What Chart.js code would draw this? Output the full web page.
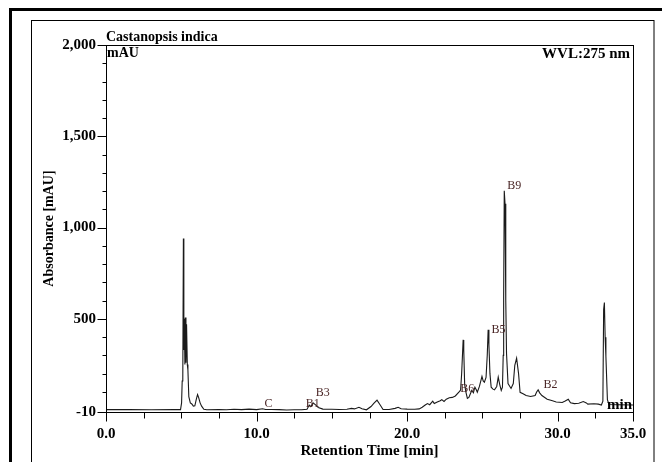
<!DOCTYPE html>
<html><head><meta charset="utf-8">
<script src="https://cdn.jsdelivr.net/npm/chart.js@4"></script>
<style>html,body{margin:0;padding:0;background:#fff;overflow:hidden;}</style>
</head><body>
<canvas id="c" width="662" height="462"></canvas>
<script>
// Chromatogram: retention time (min) and absorbance (mAU)
const times = [0,1.5,3,4.5,4.95,5.02,5.06,5.1,5.14,5.17,5.2,5.24,5.27,5.31,5.35,5.4,5.44,5.5,5.6,5.7,5.8,5.9,6.0,6.08,6.15,6.25,6.35,6.5,6.7,7.5,8.0,8.5,9.0,9.5,10.0,10.4,10.6,11.0,11.5,12.0,12.5,13.0,13.35,13.5,13.6,13.75,13.9,14.1,14.4,15.0,15.5,16.0,16.3,16.5,16.8,17.0,17.3,17.6,17.8,18.0,18.2,18.4,18.8,19.2,19.4,19.6,20.0,20.5,20.8,21.0,21.2,21.35,21.5,21.7,21.8,22.0,22.2,22.3,22.45,22.6,22.8,23.0,23.2,23.45,23.55,23.62,23.72,23.76,23.82,23.9,24.0,24.1,24.29,24.4,24.5,24.6,24.66,24.8,24.97,25.05,25.13,25.24,25.32,25.38,25.43,25.5,25.58,25.7,25.8,25.95,26.05,26.15,26.25,26.33,26.38,26.41,26.45,26.5,26.55,26.6,26.7,26.9,27.05,27.15,27.27,27.4,27.5,27.7,27.9,28.2,28.5,28.6,28.7,28.8,28.95,29.3,29.6,29.9,30.3,30.5,30.7,30.85,31.1,31.4,31.7,31.9,32.0,32.4,32.7,32.9,33.0,33.05,33.1,33.15,33.2,33.3,33.4,34.0,35.0];
const absorbance = [3,3,2,3,3,40,160,170,940,330,500,250,507,260,470,250,220,74,40,34,22,24,60,85,70,40,22,5,2,4,2,5,3,6,3,8,4,4,3,1,2,2,5,28,20,40,30,15,6,5,4,5,10,7,16,8,2,20,38,55,30,4,4,10,16,8,6,5,7,16,28,36,30,49,36,45,52,58,48,60,68,70,78,100,110,200,385,330,140,100,65,70,108,95,126,110,98,130,185,160,153,179,300,440,360,200,126,115,111,130,181,140,108,126,300,620,1202,1130,600,312,146,119,146,246,285,200,98,90,80,75,80,100,111,95,80,60,53,45,42,50,60,40,36,38,47,40,33,35,33,28,49,551,590,400,295,58,31,30,28];

const xTickValues = [0,10,20,30,35];
const xMinorTicks = [2.5,5,7.5,12.5,15,17.5,22.5,25,27.5,32.5];
const yTickValues = [-10,500,1000,1500,2000];
const yMinorTicks = [100,200,300,400,600,700,800,900,1100,1200,1300,1400,1600,1700,1800,1900];

const peakNames = ['C','B1','B3','B6','B5','B9','B2'];
const peakLabelTimes = [10.53,13.27,13.93,23.53,25.6,26.65,29.05];
const peakLabelValues = [15,15,75,102,425,1213,120];

const SERIF = "'Liberation Serif','Times New Roman',serif";

const decor = {
  id: 'decor',
  beforeDraw(chart) {
    const ctx = chart.ctx;
    ctx.save();
    ctx.fillStyle = '#fff';
    ctx.fillRect(0, 0, chart.width, chart.height);
    ctx.strokeStyle = '#000';
    ctx.lineWidth = 3;
    ctx.strokeRect(10.5, 9.5, 700, 500);
    ctx.lineWidth = 1;
    ctx.strokeRect(31.5, 20.5, 622.5, 500);
    ctx.restore();
  },
  afterDraw(chart) {
    const ctx = chart.ctx;
    const a = chart.chartArea;
    const xs = chart.scales.x, ys = chart.scales.y;
    ctx.save();
    ctx.strokeStyle = '#000';
    ctx.lineWidth = 1;
    ctx.strokeRect(Math.round(a.left) + 0.5, Math.round(a.top) + 0.5, Math.round(a.right - a.left), Math.round(a.bottom - a.top));
    const bottom = Math.round(a.bottom) + 0.5, left = Math.round(a.left) + 0.5;
    ctx.beginPath();
    xTickValues.forEach(v => { const p = Math.round(xs.getPixelForValue(v)) + 0.5; ctx.moveTo(p, bottom); ctx.lineTo(p, bottom + 9); });
    xMinorTicks.forEach(v => { const p = Math.round(xs.getPixelForValue(v)) + 0.5; ctx.moveTo(p, bottom); ctx.lineTo(p, bottom + 6); });
    yTickValues.forEach(v => { const p = Math.round(ys.getPixelForValue(v)) + 0.5; ctx.moveTo(left, p); ctx.lineTo(left - 9, p); });
    yMinorTicks.forEach(v => { const p = Math.round(ys.getPixelForValue(v)) + 0.5; ctx.moveTo(left, p); ctx.lineTo(left - 4, p); });
    ctx.stroke();

    ctx.fillStyle = '#000';
    ctx.textBaseline = 'alphabetic';
    ctx.textAlign = 'left';
    ctx.font = 'bold 14px ' + SERIF;
    ctx.fillText('Castanopsis indica', a.left, a.top - 4);
    ctx.fillText('mAU', a.left + 1, a.top + 12);
    ctx.textAlign = 'right';
    ctx.font = 'bold 15px ' + SERIF;
    ctx.fillText('WVL:275 nm', a.right - 3, a.top + 13);
    ctx.font = 'bold 15px ' + SERIF;
    ctx.fillText('min', a.right - 1, a.bottom - 3);

    ctx.textAlign = 'left';
    ctx.fillStyle = '#4a2626';
    ctx.font = '12px ' + SERIF;
    peakNames.forEach((n, i) => {
      ctx.fillText(n, xs.getPixelForValue(peakLabelTimes[i]), ys.getPixelForValue(peakLabelValues[i]));
    });
    ctx.restore();
  }
};

new Chart(document.getElementById('c'), {
  type: 'line',
  data: {
    datasets: [{
      data: times.map((t, i) => ({x: t, y: absorbance[i]})),
      borderColor: '#1a1a1a',
      borderWidth: 1.1,
      pointRadius: 0,
      tension: 0,
      fill: false
    }]
  },
  options: {
    responsive: false,
    animation: false,
    devicePixelRatio: 1,
    layout: {padding: {left: 0, right: 29, top: 45, bottom: 0}},
    plugins: {legend: {display: false}, tooltip: {enabled: false}},
    scales: {
      x: {
        type: 'linear', min: 0, max: 35,
        afterBuildTicks: s => { s.ticks = xTickValues.map(v => ({value: v})); },
        afterFit: s => { s.height = 50; },
        grid: {display: false, drawTicks: false},
        border: {display: false},
        ticks: {autoSkip: false, maxRotation: 0, padding: 13, color: '#000',
          font: {family: SERIF, size: 15, weight: 'bold'},
          callback: v => Number(v).toFixed(1)},
        title: {display: true, text: 'Retention Time [min]', color: '#000',
          font: {family: SERIF, size: 15, weight: 'bold'}, padding: {top: 0, bottom: 2}}
      },
      y: {
        type: 'linear', min: -10, max: 2000,
        afterBuildTicks: s => { s.ticks = yTickValues.map(v => ({value: v})); },
        afterFit: s => { s.width = 106; },
        grid: {display: false, drawTicks: false},
        border: {display: false},
        ticks: {autoSkip: false, padding: 10, color: '#000',
          font: {family: SERIF, size: 15, weight: 'bold'},
          callback: v => Number(v).toLocaleString('en-US')},
        title: {display: true, text: 'Absorbance [mAU]', color: '#000',
          font: {family: SERIF, size: 14, weight: 'bold'}, padding: {top: 41, bottom: 0}}
      }
    }
  },
  plugins: [decor]
});
</script>
</body></html>
